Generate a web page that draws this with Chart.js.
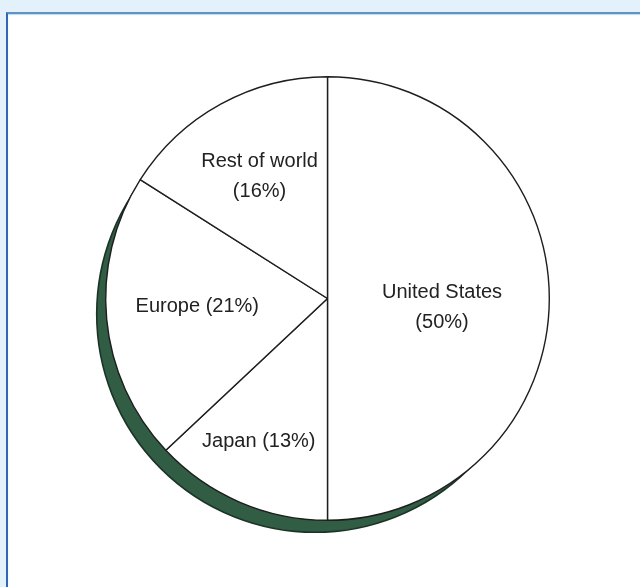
<!DOCTYPE html>
<html lang="en">
<head>
  <meta charset="UTF-8" />
  <title>Share by region</title>
  <style>
    html, body {
      margin: 0;
      padding: 0;
      width: 640px;
      height: 587px;
      overflow: hidden;
      background: #e2f1fa;
    }
    .panel {
      position: absolute;
      left: 6px;
      top: 12px;
      width: 660px;
      height: 600px;
      background: #ffffff;
      border-left: 2px solid #2f67b8;
      border-top: 2px solid #5f93c4;
      box-shadow: inset 0 1px 1px #bcdcf0;
    }
    #chart {
      position: absolute;
      left: 0;
      top: 0;
    }
  </style>
</head>
<body>

<div class="panel"></div>
<canvas id="chart" width="640" height="587"></canvas>

<script src="https://cdn.jsdelivr.net/npm/chart.js"></script>
<script>
  // Regions and their share (%), clockwise from 12 o'clock
  const regions = ['United States', 'Japan', 'Europe', 'Rest of world'];
  const shares = [50, 13, 21, 16];
  // Text shown inside each slice, one entry per line
  const sliceText = [
    ['United States', '(50%)'],
    ['Japan (13%)'],
    ['Europe (21%)'],
    ['Rest of world', '(16%)']
  ];

  // Label placement inside the slices: fraction of radius and angle nudge (deg)
  const labelRadius = [0.518, 0.714, 0.588, 0.628];
  const labelNudge = [4.5, 2.3, 2.1, -0.4];

  // Flat dark-green drop shadow behind the pie (slightly smaller disc, pushed down-left)
  const pieShadow = {
    id: 'pieShadow',
    beforeDatasetsDraw(chart) {
      const arc = chart.getDatasetMeta(0).data[0];
      if (!arc) return;
      const { x, y, outerRadius } = arc.getProps(['x', 'y', 'outerRadius'], true);
      const ctx = chart.ctx;
      ctx.save();
      ctx.beginPath();
      ctx.arc(x - 12.5, y + 15.5, outerRadius - 3.5, 0, Math.PI * 2);
      ctx.fillStyle = '#325d45';
      ctx.fill();
      ctx.lineWidth = 1.6;
      ctx.strokeStyle = '#1c3327';
      ctx.stroke();
      ctx.restore();
    }
  };

  // Slice captions
  const sliceLabels = {
    id: 'sliceLabels',
    afterDatasetsDraw(chart) {
      const ctx = chart.ctx;
      ctx.save();
      ctx.font = '20px "Liberation Sans", Arial, sans-serif';
      ctx.fillStyle = '#222222';
      ctx.textAlign = 'center';
      ctx.textBaseline = 'middle';
      const lineH = 30;
      chart.getDatasetMeta(0).data.forEach((arc, i) => {
        const p = arc.getProps(['x', 'y', 'startAngle', 'endAngle', 'outerRadius'], true);
        const a = (p.startAngle + p.endAngle) / 2 + labelNudge[i] * Math.PI / 180;
        const r = p.outerRadius * labelRadius[i];
        const cx = p.x + Math.cos(a) * r;
        const cy = p.y + Math.sin(a) * r;
        const lines = sliceText[i];
        lines.forEach((t, k) => {
          ctx.fillText(t, cx, cy + (k - (lines.length - 1) / 2) * lineH);
        });
      });
      ctx.restore();
    }
  };

  new Chart(document.getElementById('chart'), {
    type: 'pie',
    data: {
      labels: regions,
      datasets: [{
        data: shares,
        backgroundColor: '#ffffff',
        borderColor: '#1e1e1e',
        borderWidth: 1.4,
        hoverOffset: 0
      }]
    },
    options: {
      responsive: false,
      animation: false,
      events: [],
      layout: {
        padding: { left: 105, right: 90, top: 76, bottom: 66 }
      },
      plugins: {
        legend: { display: false },
        tooltip: { enabled: false }
      }
    },
    plugins: [pieShadow, sliceLabels]
  });
</script>

</body>
</html>
